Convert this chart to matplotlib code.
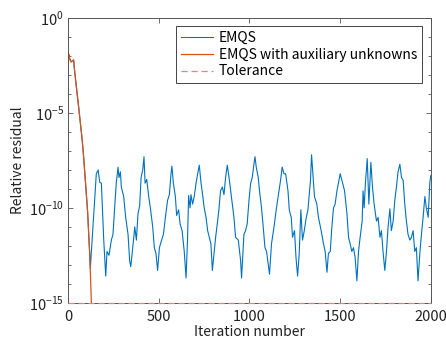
import numpy as np
import matplotlib
matplotlib.use("Agg")
import matplotlib.pyplot as plt
from matplotlib.ticker import FixedLocator, NullFormatter

plt.rcParams["font.family"] = ["Noto Sans CJK JP", "DejaVu Sans"]
plt.rcParams["mathtext.fontset"] = "custom"
plt.rcParams["mathtext.rm"] = "Noto Sans CJK JP"

# ====== data (residual as log10) ======
# EMQS with auxiliary unknowns : drops fast, reaches tolerance ~ iter 129
aux_iter = [0, 4, 8, 17, 31, 35, 46, 59, 68, 78, 86, 96, 108, 120, 123, 129]
aux_log = [-2.6, -1.9, -2.1, -2.3, -2.2, -2.65, -3.6, -4.7, -5.5, -6.4,
           -7.3, -8.6, -10.2, -12.5, -13.3, -15.05]

# EMQS : same start, then stagnates between 1e-14 and 1e-7
emqs_iter = [0, 4, 8, 17, 31, 35, 46, 59, 68, 78, 86, 96, 108, 120, 123,
             156, 166, 175, 184, 193, 197, 208, 215, 226, 239, 248, 257, 266,
             276, 281, 289, 294, 307, 318, 331, 340, 346, 359, 368, 377, 386,
             395, 403, 412, 419, 425, 434, 445, 454, 467, 476, 485, 494, 504,
             513, 526, 537, 549, 559, 568, 573, 581, 592, 599, 610, 618, 629,
             641, 651, 659, 665, 673, 678, 687, 696, 706, 715, 724, 733, 742,
             751, 761, 770, 779, 788, 796, 805, 814, 823, 832, 841, 851, 860,
             869, 878, 888, 897, 906, 915, 924, 939, 952, 957, 965, 970, 979,
             988, 998, 1007, 1016, 1025, 1031, 1038, 1049, 1056, 1067, 1075,
             1086, 1095, 1104, 1111, 1122, 1136, 1148, 1159, 1172, 1181, 1191,
             1200, 1213, 1220, 1231, 1238, 1249, 1257, 1266, 1275, 1284, 1293,
             1303, 1312, 1323, 1330, 1337, 1343, 1350, 1359, 1372, 1381, 1396,
             1409, 1418, 1428, 1436, 1446, 1455, 1464, 1473, 1483, 1492, 1501,
             1514, 1525, 1538, 1547, 1556, 1565, 1574, 1583, 1593, 1602, 1609,
             1622, 1627, 1633, 1640, 1650, 1659, 1670, 1679, 1688, 1701, 1710,
             1720, 1728, 1738, 1747, 1756, 1765, 1775, 1783, 1793, 1802, 1811,
             1820, 1830, 1839, 1848, 1857, 1866, 1875, 1885, 1894, 1903, 1912,
             1921, 1930, 1940, 1949, 1958, 1968, 1976, 1986, 1995, 2000]
emqs_log = [-2.6, -1.9, -2.1, -2.3, -2.2, -2.65, -3.6, -4.7, -5.5, -6.4,
            -7.3, -8.6, -10.2, -12.5, -13.2,
            -8.2, -8.0, -8.65, -8.7, -10.85, -11.7, -13.6, -12.3, -12.5, -11.7,
            -11.4, -10.0, -8.7, -7.85, -8.4, -8.1, -8.9, -9.4, -10.5, -11.4,
            -12.8, -13.1, -11.9, -11.0, -11.7, -10.3, -9.9, -8.4, -8.0, -7.3,
            -8.7, -8.5, -9.4, -10.0, -11.0, -12.1, -12.4, -13.3, -12.1, -11.8,
            -11.4, -10.5, -9.6, -9.3, -8.2, -7.8, -8.7, -9.4, -10.4, -10.1,
            -10.85, -11.2, -12.3, -13.7, -11.7, -9.35, -10.0, -9.3, -9.8, -9.4,
            -8.7, -8.2, -7.75, -8.65, -9.3, -10.0, -10.5, -11.2, -11.55, -11.9,
            -13.3, -12.4, -11.55, -10.85, -10.1, -9.1, -8.9, -9.3, -8.4, -7.75,
            -8.4, -9.1, -9.8, -10.5, -11.55, -11.7, -12.8, -13.7, -12.3, -11.4,
            -11.2, -10.85, -9.6, -8.7, -8.4, -7.7, -7.3, -7.85, -8.4, -9.1,
            -10.0, -10.85, -12.1, -12.3, -13.0, -13.5, -11.9, -11.0, -10.1,
            -9.4, -8.55, -7.85, -8.2, -8.2, -9.1, -10.1, -10.5, -11.55, -11.2,
            -12.6, -13.6, -12.4, -10.1, -11.7, -11.2, -10.6, -10.1, -9.3, -8.55,
            -7.2, -8.2, -9.4, -9.8, -10.5, -11.2, -11.9, -12.3, -13.4, -12.4,
            -12.3, -11.0, -10.0, -9.8, -9.1, -8.65, -8.2, -8.7, -9.1, -10.3,
            -11.55, -11.9, -12.3, -12.1, -12.6, -13.85, -12.3, -11.7, -10.7,
            -9.1, -10.0, -8.7, -7.4, -9.8, -7.6, -8.9, -9.8, -10.7, -10.5,
            -11.55, -11.2, -12.4, -13.3, -12.3, -11.0, -10.05, -11.2, -10.7,
            -9.6, -8.9, -8.1, -7.7, -8.4, -8.55, -9.8, -10.7, -11.4, -11.7,
            -11.55, -11.2, -12.3, -12.1, -13.85, -12.4, -11.4, -10.5, -9.4,
            -10.0, -10.5, -8.7, -8.3]

tol_iter = [0, 2000]
tol_value = [1e-15, 1e-15]

# ====== plot ======
fig = plt.figure(figsize=(4.46, 3.42), dpi=100)
ax = fig.add_axes([0.1525, 0.115, 0.8132, 0.8315])

ax.semilogy(emqs_iter, 10.0 ** np.array(emqs_log), color="#0072BD",
            lw=0.8, label="EMQS")
ax.semilogy(aux_iter, 10.0 ** np.array(aux_log), color="#D95319",
            lw=0.9, label="EMQS with auxiliary unknowns")
ax.semilogy(tol_iter, tol_value, color="#EE8080", lw=0.9, ls=(0, (5, 3)),
            label="Tolerance", clip_on=False, zorder=5)

ax.set_xlim(0, 2000)
ax.set_ylim(1e-15, 1)
ax.set_xticks([0, 500, 1000, 1500, 2000])
ax.yaxis.set_major_locator(FixedLocator([1e-15, 1e-10, 1e-5, 1]))
ax.set_yticklabels(["$10^{-15}$", "$10^{-10}$", "$10^{-5}$", "$10^{0}$"])
ax.yaxis.set_minor_locator(FixedLocator([10.0 ** k for k in range(-15, 1)]))
ax.yaxis.set_minor_formatter(NullFormatter())

ax.tick_params(which="both", direction="in", top=True, right=True,
               color="#555555", labelsize=10.5, labelcolor="#222222")
ax.tick_params(axis="x", pad=5)
ax.tick_params(axis="y", pad=3)
ax.tick_params(which="major", length=3.5, width=0.6)
ax.tick_params(which="minor", length=2.5, width=0.6)
for s in ax.spines.values():
    s.set_color("#555555")
    s.set_linewidth(0.7)

ax.set_xlabel("Iteration number", fontsize=10, color="#222222", labelpad=1)
ax.set_ylabel("Relative residual", fontsize=10, color="#222222", labelpad=3)

leg = ax.legend(loc="upper right", bbox_to_anchor=(422 / 446, 1 - 26 / 342),
                bbox_transform=fig.transFigure, borderaxespad=0,
                fancybox=False, fontsize=10, handlelength=2.3,
                handletextpad=0.4, labelspacing=0.2, borderpad=0.35,
                framealpha=1)
leg.get_frame().set_edgecolor("#444444")
leg.get_frame().set_linewidth(0.7)

fig.savefig("out.png", dpi=100)
